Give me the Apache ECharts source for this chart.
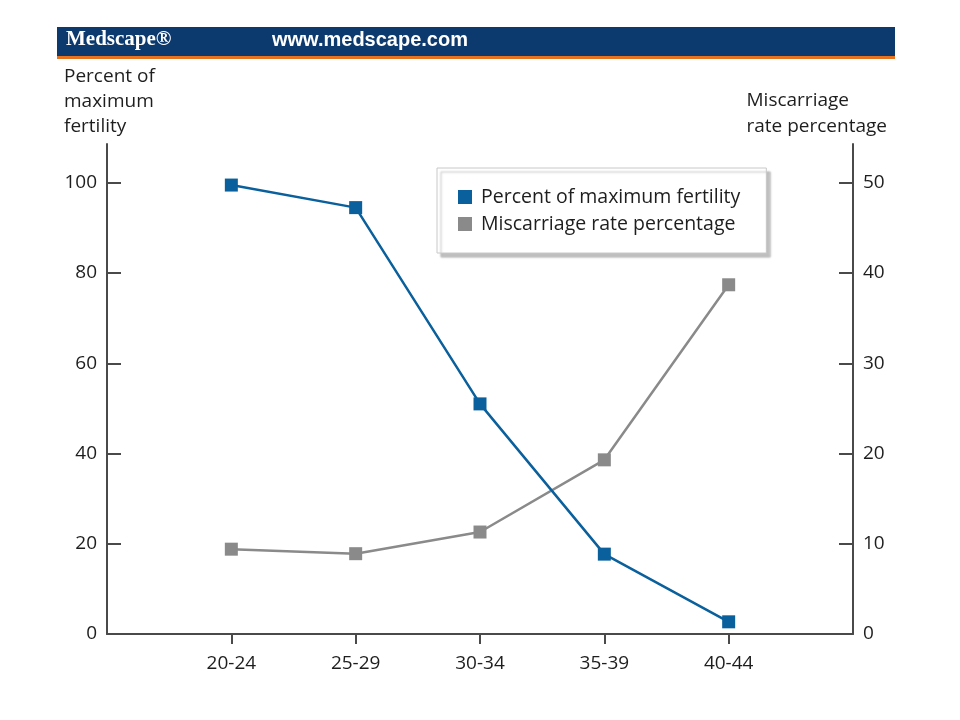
<!DOCTYPE html>
<html>
<head>
<meta charset="utf-8">
<script src="https://cdn.jsdelivr.net/npm/echarts@6/dist/echarts.min.js"></script>
<style>
  html, body { margin: 0; padding: 0; background: #fff; }
  #chart { width: 960px; height: 720px; }
</style>
</head>
<body>
<div id="chart"></div>
<script>
const ageGroups = ["20-24", "25-29", "30-34", "35-39", "40-44"];
const fertility = [99.5, 94.5, 51, 17.7, 2.7];
const miscarriage = [9.4, 8.9, 11.3, 19.3, 38.7];
const leftTicks = [0, 20, 40, 60, 80, 100];
const rightTicks = [0, 10, 20, 30, 40, 50];

// blank slots at both ends so the points sit one step in from the axes
const categories = [""].concat(ageGroups, [""]);
const pad = (arr) => [null].concat(arr, [null]);

const font = "'Open Sans', 'Noto Sans', sans-serif";
const axisColor = "#4a4a4a";
const textColor = "#1e1e1e";

let chart = echarts.init(document.getElementById("chart"));
chart.setOption({
  animation: false,
  textStyle: { fontFamily: font },
  grid: { left: 107, right: 107, top: 144, bottom: 86 },
  graphic: [
    { type: "rect", shape: { x: 57, y: 27, width: 838, height: 30 }, style: { fill: "#0d3a6e" } },
    { type: "rect", shape: { x: 57, y: 56, width: 838, height: 3 }, style: { fill: "#e8731e" } },
    {
      type: "text", left: 66, top: 29,
      style: { text: "Medscape®", fill: "#fff", font: "bold 21px 'Liberation Serif', serif" }
    },
    {
      type: "text", left: 272, top: 30,
      style: { text: "www.medscape.com", fill: "#fff", font: "bold 20px 'Liberation Sans', Arial, sans-serif" }
    },
    {
      type: "text", left: 64, top: 64,
      style: { text: "Percent of\nmaximum\nfertility", fill: textColor, font: "19px " + font, lineHeight: 25 }
    },
    {
      type: "text", right: 73, top: 88,
      style: { text: "Miscarriage\nrate percentage", fill: textColor, font: "19px " + font, lineHeight: 26, align: "left" }
    }
  ],
  legend: {
    orient: "vertical",
    left: 437,
    top: 168,
    padding: [19, 26, 19, 21],
    itemGap: 7,
    itemWidth: 14,
    itemHeight: 14,
    icon: "rect",
    backgroundColor: "#fff",
    borderColor: "#c8c8c8",
    borderWidth: 1,
    shadowColor: "rgba(0,0,0,0.25)",
    shadowOffsetX: 4,
    shadowOffsetY: 4,
    shadowBlur: 2,
    textStyle: { fontSize: 19.5, color: textColor, fontFamily: font, padding: [0, 0, 0, 4] },
    data: ["Percent of maximum fertility", "Miscarriage rate percentage"]
  },
  xAxis: {
    type: "category",
    boundaryGap: false,
    data: categories,
    axisLine: { lineStyle: { color: axisColor, width: 2 } },
    axisTick: {
      length: 10,
      interval: (i, v) => v !== "",
      lineStyle: { color: axisColor, width: 2 }
    },
    axisLabel: { fontSize: 19, color: textColor, margin: 20, interval: 0 }
  },
  yAxis: [
    {
      type: "value",
      min: 0,
      max: 108.6,
      position: "left",
      splitLine: { show: false },
      axisLine: { show: true, lineStyle: { color: axisColor, width: 2 } },
      axisTick: { show: true, inside: true, length: 14, customValues: leftTicks, lineStyle: { color: axisColor, width: 2 } },
      axisLabel: { fontSize: 19, color: textColor, margin: 10, customValues: leftTicks }
    },
    {
      type: "value",
      min: 0,
      max: 54.3,
      position: "right",
      splitLine: { show: false },
      axisLine: { show: true, lineStyle: { color: axisColor, width: 2 } },
      axisTick: { show: true, inside: true, length: 14, customValues: rightTicks, lineStyle: { color: axisColor, width: 2 } },
      axisLabel: { fontSize: 19, color: textColor, margin: 10, customValues: rightTicks }
    }
  ],
  series: [
    {
      name: "Miscarriage rate percentage",
      type: "line",
      yAxisIndex: 1,
      data: pad(miscarriage),
      symbol: "rect",
      symbolSize: 13,
      itemStyle: { color: "#8a8a8a" },
      lineStyle: { color: "#8a8a8a", width: 2.5 }
    },
    {
      name: "Percent of maximum fertility",
      type: "line",
      yAxisIndex: 0,
      data: pad(fertility),
      symbol: "rect",
      symbolSize: 13,
      itemStyle: { color: "#0a609c" },
      lineStyle: { color: "#0a609c", width: 2.5 }
    }
  ]
});
</script>
</body>
</html>
